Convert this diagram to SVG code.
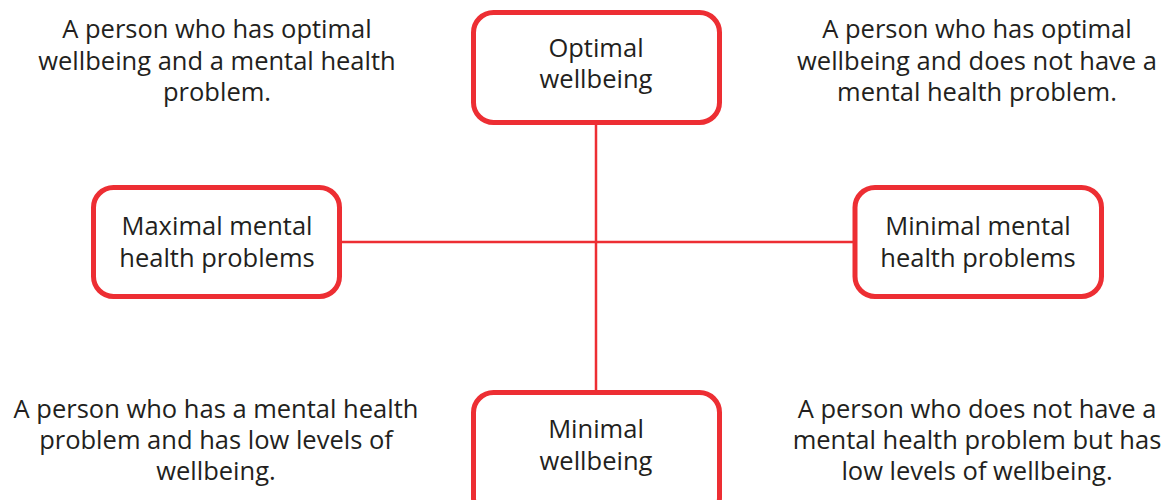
<svg xmlns="http://www.w3.org/2000/svg" width="1166" height="500" viewBox="0 0 1166 500">
<style>
.box{fill:#fff;stroke:#ED2E33;stroke-width:5}
.conn{stroke:#ED2E33;stroke-width:2.5;fill:none}
text{font-family:"Open Sans","Noto Sans","Liberation Sans",sans-serif;font-size:25.5px;fill:#231F20;text-anchor:middle}
</style>
<rect width="1166" height="500" fill="#fff"/>
<g id="connectors">
<line class="conn" x1="596" y1="124" x2="596" y2="391"/>
<line class="conn" x1="341" y1="242" x2="854" y2="242"/>
</g>
<g id="node-optimal">
<rect class="box" x="473.5" y="12.5" width="246" height="110" rx="20"/>
<text x="596" y="57">Optimal</text>
<text x="596" y="88">wellbeing</text>
</g>
<g id="node-maximal">
<rect class="box" x="93.5" y="187.5" width="246" height="109" rx="20"/>
<text x="217" y="235">Maximal mental</text>
<text x="217" y="267">health problems</text>
</g>
<g id="node-minimal-mh">
<rect class="box" x="855" y="187.5" width="246.5" height="109" rx="20"/>
<text x="978" y="235">Minimal mental</text>
<text x="978" y="267">health problems</text>
</g>
<g id="node-minimal-wb">
<rect class="box" x="473.5" y="392.5" width="246" height="125" rx="20"/>
<text x="596" y="438">Minimal</text>
<text x="596" y="470">wellbeing</text>
</g>
<g id="label-top-left">
<text x="217" y="38">A person who has optimal</text>
<text x="217" y="69.5">wellbeing and a mental health</text>
<text x="217" y="101">problem.</text>
</g>
<g id="label-top-right">
<text x="977" y="38">A person who has optimal</text>
<text x="977" y="69.5">wellbeing and does not have a</text>
<text x="977" y="101">mental health problem.</text>
</g>
<g id="label-bottom-left">
<text x="216" y="418">A person who has a mental health</text>
<text x="216" y="449">problem and has low levels of</text>
<text x="216" y="480">wellbeing.</text>
</g>
<g id="label-bottom-right">
<text x="977" y="418">A person who does not have a</text>
<text x="977" y="449">mental health problem but has</text>
<text x="977" y="480">low levels of wellbeing.</text>
</g>
</svg>
